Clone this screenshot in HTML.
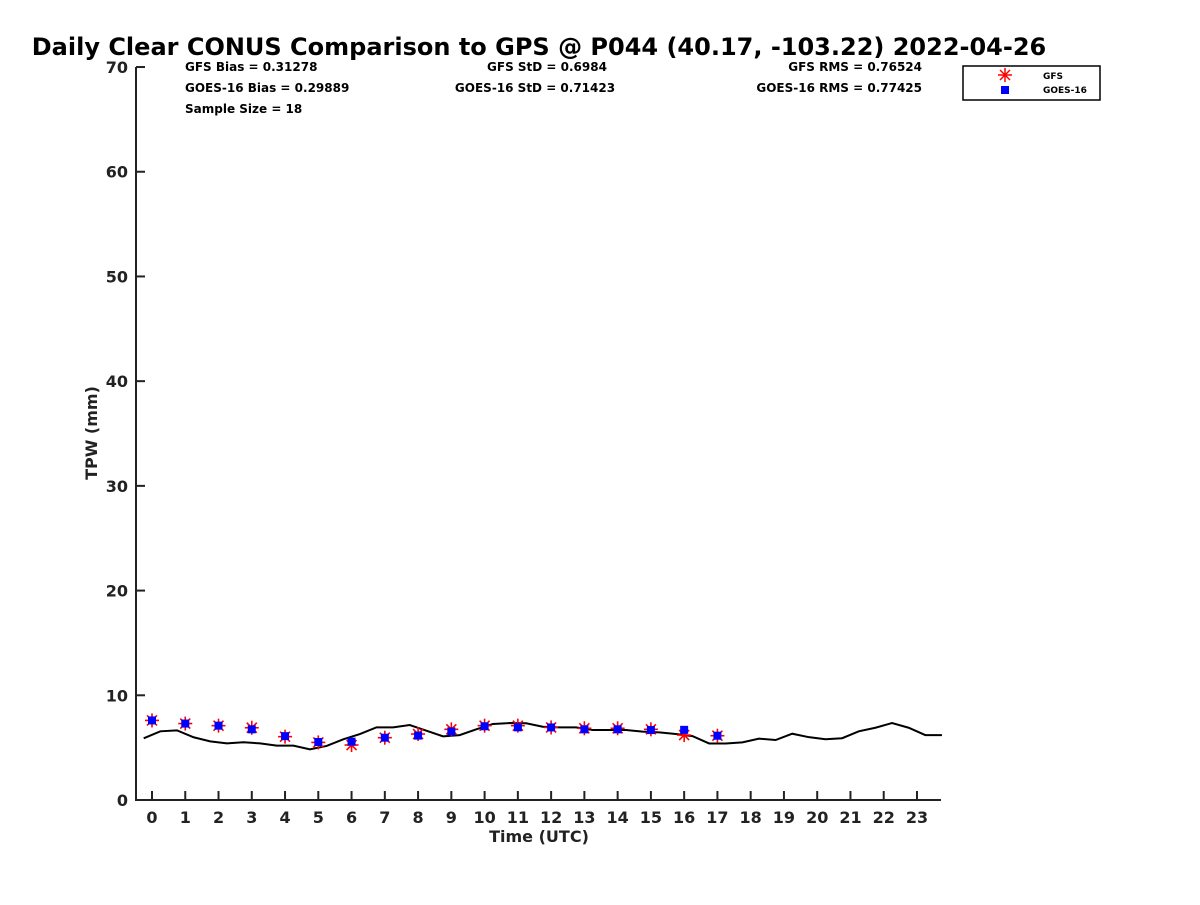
<!DOCTYPE html>
<html><head><meta charset="utf-8"><style>
body{margin:0;background:#fff;}
svg text{font-family:"DejaVu Sans","Liberation Sans",sans-serif;font-weight:bold;}
</style></head><body>
<svg id="chart" width="1200" height="900" xmlns="http://www.w3.org/2000/svg">
<rect width="1200" height="900" fill="#fff"/>
<text x="539" y="55" font-size="24" text-anchor="middle" fill="#000">Daily Clear CONUS Comparison to GPS @ P044 (40.17, -103.22) 2022-04-26</text>
<g font-size="12" fill="#000">
<text x="185" y="71">GFS Bias = 0.31278</text>
<text x="185" y="92">GOES-16 Bias = 0.29889</text>
<text x="185" y="113">Sample Size = 18</text>
<text x="547" y="71" text-anchor="middle">GFS StD = 0.6984</text>
<text x="535" y="92" text-anchor="middle">GOES-16 StD = 0.71423</text>
<text x="922" y="71" text-anchor="end">GFS RMS = 0.76524</text>
<text x="922" y="92" text-anchor="end">GOES-16 RMS = 0.77425</text>
</g>
<g id="axes"></g>
<g id="marks"></g>
<g>
<rect x="963" y="66" width="137" height="34" fill="#fff" stroke="#000" stroke-width="1.5"/>
<g stroke="#f00" stroke-width="1.5">
<line x1="998" y1="75" x2="1012" y2="75"/><line x1="1005" y1="68" x2="1005" y2="82"/>
<line x1="1000" y1="70" x2="1010" y2="80"/><line x1="1000" y1="80" x2="1010" y2="70"/></g>
<rect x="1001" y="86" width="8" height="8" fill="#00f"/>
<text x="1043" y="79" font-size="9">GFS</text>
<text x="1043" y="93" font-size="9">GOES-16</text>
</g>
</svg>
<script>
const hours=[0,1,2,3,4,5,6,7,8,9,10,11,12,13,14,15,16,17];
const gfsValues=[7.6,7.3,7.1,6.9,6.05,5.5,5.25,5.95,6.3,6.75,7.1,7.1,6.93,6.85,6.85,6.75,6.2,6.14];
const goesValues=[7.6,7.3,7.1,6.75,6.1,5.54,5.57,5.95,6.15,6.55,7.04,6.94,6.93,6.75,6.75,6.68,6.7,6.14];
const gpsTimes=[-0.25,0.25,0.75,1.25,1.75,2.25,2.75,3.25,3.75,4.25,4.75,5.25,5.75,6.25,6.75,7.25,7.75,8.25,8.75,9.25,9.75,10.25,10.75,11.25,11.75,12.25,12.75,13.25,13.75,14.25,14.75,15.25,15.75,16.25,16.75,17.25,17.75,18.25,18.75,19.25,19.75,20.25,20.75,21.25,21.75,22.25,22.75,23.25,23.75];
const gpsValues=[5.89,6.56,6.65,5.99,5.6,5.41,5.51,5.41,5.19,5.19,4.84,5.16,5.8,6.3,6.94,6.94,7.16,6.62,6.08,6.2,6.75,7.26,7.35,7.33,7.0,6.93,6.93,6.68,6.68,6.68,6.53,6.46,6.3,6.1,5.4,5.4,5.5,5.86,5.73,6.33,6.0,5.8,5.9,6.56,6.9,7.35,6.9,6.2,6.2];
const xTicks=[0,1,2,3,4,5,6,7,8,9,10,11,12,13,14,15,16,17,18,19,20,21,22,23];
const yTicks=[0,10,20,30,40,50,60,70];

const NS='http://www.w3.org/2000/svg';
const X=t=>152+t*33.26;
const Y=v=>800-v*10.471;
function mk(tag,attrs,parent){const e=document.createElementNS(NS,tag);for(const k in attrs)e.setAttribute(k,attrs[k]);parent.appendChild(e);return e;}
const axes=document.getElementById('axes'),marks=document.getElementById('marks');
const L=136,R=941,T=67,B=800;
let e=mk('path',{d:`M${L},${T} L${L},${B} L${R},${B}`,fill:'none',stroke:'#222','stroke-width':2},axes);


xTicks.forEach(t=>{
  const l=mk('line',{x1:X(t),x2:X(t),y1:B,y2:B-9,stroke:'#222','stroke-width':2},axes);
  
  
  const tx=mk('text',{x:X(t),y:823,'font-size':16,'text-anchor':'middle',fill:'#222'},axes);
  tx.textContent=t;
  
  
});
yTicks.forEach(v=>{
  const l=mk('line',{x1:L,x2:L+9,y1:Y(v),y2:Y(v),stroke:'#222','stroke-width':2},axes);
  
  
  const tx=mk('text',{x:128,y:Y(v)+6,'font-size':16,'text-anchor':'end',fill:'#222'},axes);
  tx.textContent=v;
  
  
});
let xt=mk('text',{x:539,y:842,'font-size':16,'text-anchor':'middle',fill:'#222'},axes);
xt.textContent='Time (UTC)';


let yt=mk('text',{x:97,y:433,'font-size':16,'text-anchor':'middle',fill:'#222',transform:'rotate(-90 97 433)'},axes);
yt.textContent='TPW (mm)';



const pl=mk('polyline',{points:gpsTimes.map((t,i)=>X(t)+','+Y(gpsValues[i])).join(' '),fill:'none',stroke:'#000','stroke-width':2},marks);


hours.forEach((h,i)=>{
  const cx=X(h),cy=Y(gfsValues[i]),r=7,d=5;
  const g=mk('g',{stroke:'#f00','stroke-width':1.6},marks);
  
  
  mk('line',{x1:cx-r,x2:cx+r,y1:cy,y2:cy},g);
  mk('line',{x1:cx,x2:cx,y1:cy-r,y2:cy+r},g);
  mk('line',{x1:cx-d,x2:cx+d,y1:cy-d,y2:cy+d},g);
  mk('line',{x1:cx-d,x2:cx+d,y1:cy+d,y2:cy-d},g);
});
hours.forEach((h,i)=>{
  const s=mk('rect',{x:X(h)-4,y:Y(goesValues[i])-4,width:8,height:8,fill:'#00f'},marks);
  
  
});
</script>
</body></html>
